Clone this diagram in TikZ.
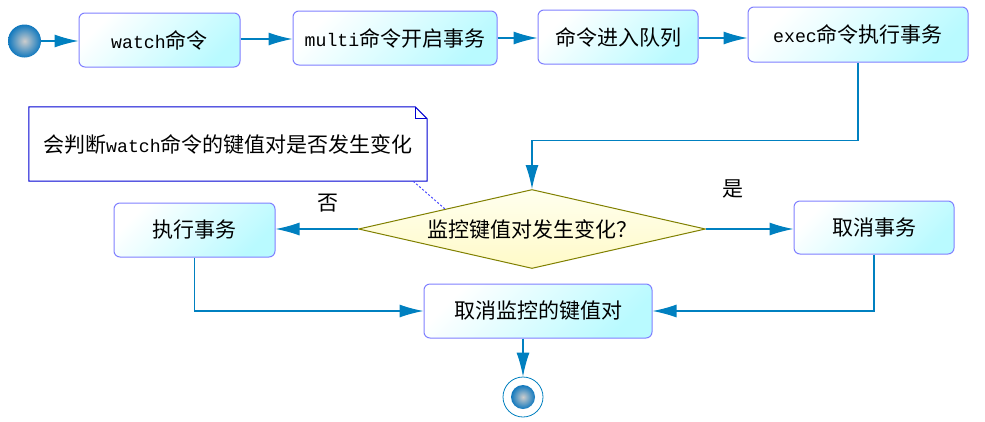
\documentclass[tikz,border=0pt]{standalone}
\usepackage{fontspec}
\setmainfont{Noto Sans CJK SC}
\newfontfamily\latmono{Liberation Mono}
\newcommand{\en}[1]{{\latmono\fontsize{18.2}{22}\selectfont #1}}
\usetikzlibrary{shapes.geometric,arrows.meta}
\definecolor{conn}{RGB}{0,128,192}
\definecolor{boxline}{RGB}{128,128,255}
\definecolor{boxfill}{RGB}{185,250,255}
\definecolor{notel}{RGB}{0,0,210}
\definecolor{dial}{RGB}{128,128,0}
\definecolor{diafillA}{RGB}{255,255,238}
\definecolor{diafillB}{RGB}{255,250,200}
\definecolor{dotl}{RGB}{70,70,255}
\definecolor{startin}{RGB}{205,205,205}
\definecolor{startout}{RGB}{16,120,190}
\tikzset{
  every node/.style={font=\fontsize{21}{25}\selectfont},
  actbox/.style={draw=boxline, line width=1pt, rounded corners=6pt,
    top color=white, bottom color=boxfill, shading angle=45,
    minimum height=54pt, inner sep=0pt},
  decbox/.style={diamond, draw=dial, line width=1pt,
    top color=diafillA, bottom color=diafillB,
    minimum width=347pt, minimum height=79pt, inner sep=0pt, aspect=4.4},
  flow/.style={draw=conn, line width=1.2pt, -{Latex[length=24pt,width=13pt]}},
  startdot/.style={circle, inner sep=0pt, inner color=startin, outer color=startout},
  notetext/.style={inner sep=0pt, minimum width=398pt, minimum height=74pt},
  noteline/.style={draw=notel, line width=1pt},
  notelink/.style={draw=dotl, line width=1pt, dash pattern=on 2pt off 2pt}
}
\begin{document}
\begin{tikzpicture}[x=1pt,y=-1pt]
\useasboundingbox (0,0) rectangle (985,421);
\fill[white] (0,0) rectangle (985,421);
% nodes
\node[startdot, minimum size=33pt] (start) at (24.5,41) {};
\node[actbox, minimum width=161pt] (b1) at (159.5,40) {\en{watch}命令};
\node[actbox, minimum width=204pt] (b2) at (395,38) {\en{multi}命令开启事务};
\node[actbox, minimum width=160pt] (b3) at (618,37) {命令进入队列};
\node[actbox, minimum width=220pt, minimum height=55pt] (b4) at (858,34.5) {\en{exec}命令执行事务};
\node[decbox] (dia) at (532,229) {监控键值对发生变化？};
\node[actbox, minimum width=161pt] (exe) at (194.5,230) {执行事务};
\node[actbox, minimum width=160pt, minimum height=53pt] (cancel) at (874,227.5) {取消事务};
\node[actbox, minimum width=228pt] (unw) at (538,311) {取消监控的键值对};
\node[circle, draw=conn, line width=0.8pt, minimum size=40pt, inner sep=0pt] (end) at (523,397) {};
\node[startdot, minimum size=24pt] (endin) at (end.center) {};
\node[notetext] (note) at (228,144) {会判断\en{watch}命令的键值对是否发生变化};
\node (no) at (328,203) {否};
\node (yes) at (733,189) {是};
% note outline
\draw[noteline] (note.south west) -- (note.north west) -- ([xshift=-12pt]note.north east)
  -- ([yshift=-12pt]note.north east) -- (note.south east) -- cycle;
\draw[noteline] ([xshift=-12pt]note.north east) -- ([xshift=-12pt,yshift=-12pt]note.north east)
  -- ([yshift=-12pt]note.north east);
\draw[notelink] ([xshift=-14pt]note.south east) -- (dia.north west);
% connectors
\draw[flow] (start.east) -- (start.east -| b1.west);
\draw[flow] ([yshift=1pt]b1.east) -- ([yshift=1pt]b1.east -| b2.west);
\draw[flow] (b2.east) -- (b2.east -| b3.west);
\draw[flow] ([yshift=-1pt]b3.east) -- ([yshift=-1pt]b3.east -| b4.west);
\draw[flow] (b4.south) -- ++(0,78) -| (dia.north);
\draw[flow] (dia.west) -- (dia.west -| exe.east);
\draw[flow] (dia.east) -- (dia.east -| cancel.west);
\draw[flow] (exe.south) |- (unw.west);
\draw[flow] (cancel.south) |- (unw.east);
\draw[flow] (unw.south -| end.north) -- (end.north);
\end{tikzpicture}
\end{document}
